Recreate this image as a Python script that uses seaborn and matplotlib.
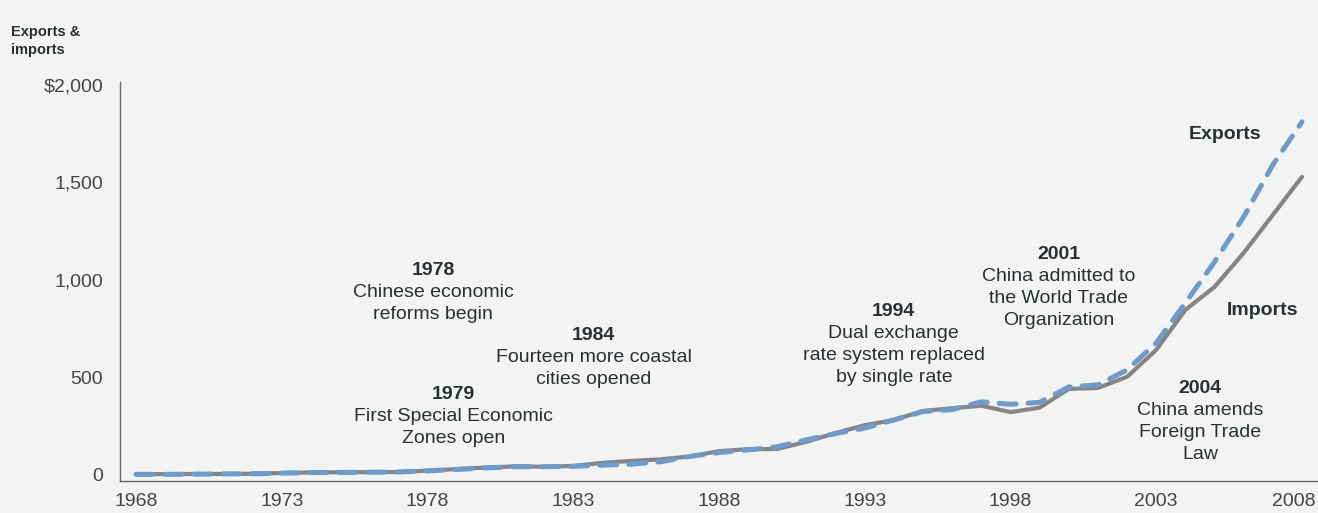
import pandas as pd
import seaborn as sns
import matplotlib.pyplot as plt
from matplotlib.transforms import ScaledTranslation

# China exports & imports, $ billions
years = list(range(1968, 2009))
imports = [4, 4, 5, 5, 6, 10, 13, 14, 14, 15,
           22, 30, 38, 44, 42, 46, 62, 72, 80, 95,
           122, 132, 133, 170, 215, 255, 282, 328, 342, 355,
           322, 345, 441, 446, 503, 641, 846, 964, 1138, 1333,
           1528]
exports = [3, 3, 4, 5, 6, 9, 12, 13, 14, 15,
           21, 28, 36, 42, 42, 44, 50, 55, 68, 95,
           115, 128, 145, 180, 212, 240, 282, 325, 335, 375,
           362, 372, 451, 462, 538, 677, 882, 1092, 1323, 1590,
           1810]

xticks = list(range(1968, 2009, 5))
yticks = [0, 500, 1000, 1500, 2000]
ytick_labels = ['0', '500', '1,000', '1,500', '$2,000']

# annotations: (x, y of first line, year, description lines)
events = [
    (1978.2, 1046, '1978', ['Chinese economic', 'reforms begin']),
    (1983.7, 713, '1984', ['Fourteen more coastal', 'cities opened']),
    (1978.9, 410, '1979', ['First Special Economic', 'Zones open']),
    (1994.0, 836, '1994', ['Dual exchange', 'rate system replaced', 'by single rate']),
    (1999.65, 1128, '2001', ['China admitted to', 'the World Trade', 'Organization']),
    (2004.5, 441, '2004', ['China amends', 'Foreign Trade', 'Law']),
]

bg = '#f2f4f4'
gray = '#858585'
blue = '#6f9bcb'
txt = '#2b2f33'
fs = 14

sns.set_style('white')
plt.rcParams['font.family'] = ['Liberation Sans', 'DejaVu Sans']

df = pd.DataFrame({'year': years, 'Imports': imports, 'Exports': exports})

fig = plt.figure(figsize=(13.18, 5.13), dpi=100, facecolor=bg)
ax = fig.add_axes([0.091, 0.0624, 0.909, 0.778])
ax.set_facecolor(bg)

sns.lineplot(data=df, x='year', y='Imports', ax=ax, color=gray, linewidth=3.0,
             solid_capstyle='round')
sns.lineplot(data=df, x='year', y='Exports', ax=ax, color=blue, linewidth=3.6,
             dashes=(3.4, 2.4), dash_capstyle='round')

ax.set_xlim(1967.45, 2008.55)
ax.set_ylim(-31, 2015)
ax.set_xticks(xticks)
ax.set_yticks(yticks)
ax.set_yticklabels(ytick_labels)
ax.tick_params(axis='both', length=0, labelsize=fs, colors='#444444')
ax.tick_params(axis='y', pad=12)
ax.tick_params(axis='x', pad=9)
ax.set_xlabel('')
ax.set_ylabel('')

# keep the last year label inside the figure
last = ax.get_xticklabels()[-1]
last.set_horizontalalignment('right')
last.set_transform(last.get_transform() + ScaledTranslation(0.14, 0, fig.dpi_scale_trans))

for s in ['top', 'right']:
    ax.spines[s].set_visible(False)
for s in ['left', 'bottom']:
    ax.spines[s].set_color('#666666')
    ax.spines[s].set_linewidth(1.0)

for x, y, yr, lines in events:
    ax.annotate(yr, xy=(x, y), ha='center', va='center', fontsize=fs,
                fontweight='bold', color=txt)
    for i, line in enumerate(lines, start=1):
        ax.annotate(line, xy=(x, y), xytext=(0, -15.8 * i),
                    textcoords='offset points', ha='center', va='center',
                    fontsize=fs, color=txt)

ax.text(2005.36, 1744, 'Exports', ha='center', va='center', fontsize=fs,
        fontweight='bold', color=txt)
ax.text(2006.66, 841, 'Imports', ha='center', va='center', fontsize=fs,
        fontweight='bold', color=txt)

fig.text(0.008, 0.92, 'Exports &\nimports', ha='left', va='center',
         fontsize=10.5, fontweight='bold', color=txt, linespacing=1.35)

fig.savefig('out.png', dpi=100, facecolor=bg)
